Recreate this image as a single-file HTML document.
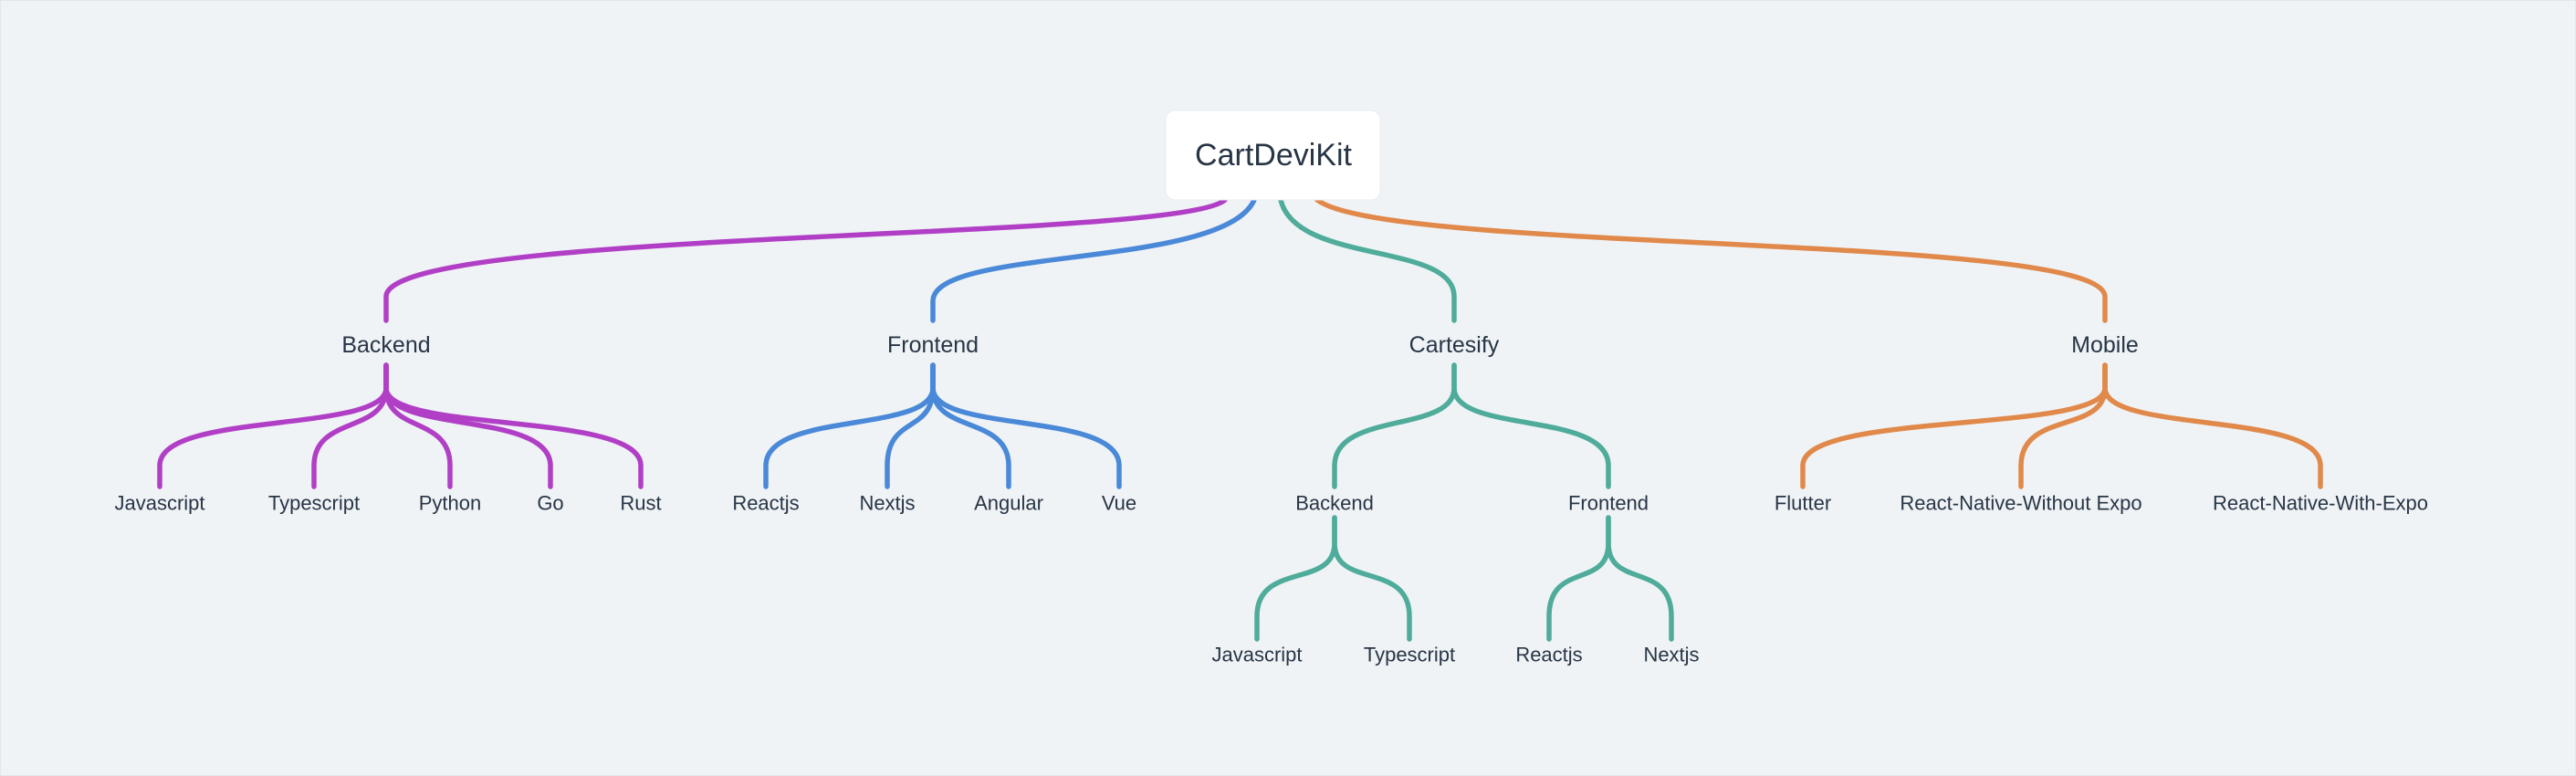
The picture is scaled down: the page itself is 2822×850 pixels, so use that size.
<!DOCTYPE html>
<html><head><meta charset="utf-8"><style>
html,body{margin:0;padding:0;background:#eff3f6;}
svg{display:block}
text{font-family:"Liberation Sans",sans-serif;fill:#283545;text-anchor:middle;dominant-baseline:central}
</style></head><body>
<svg width="2822" height="850" viewBox="0 0 2822 850" xmlns="http://www.w3.org/2000/svg">
<rect x="0.5" y="0.5" width="2821" height="849" fill="#eff3f6" stroke="#e2e7ec"/>
<g fill="none" stroke-width="5.5" stroke-linecap="round">
<path d="M1342,219 C1290,265 423,250 423,325 L423,351" stroke="#b13fc6"/>
<path d="M1374,219 C1340,295 1022,270 1022,330 L1022,351" stroke="#4a88d8"/>
<path d="M1403,219 C1420,290 1593,265 1593,325 L1593,351" stroke="#4fab9a"/>
<path d="M1443,219 C1520,278 2306,255 2306,325 L2306,351" stroke="#e0894a"/>
<g stroke="#b13fc6">
<path d="M423,400 V425 C423,475 175,450 175,510 V533"/>
<path d="M423,400 V425 C423,475 344,455 344,510 V533"/>
<path d="M423,400 V425 C423,475 493,455 493,510 V533"/>
<path d="M423,400 V425 C423,475 603,450 603,510 V533"/>
<path d="M423,400 V425 C423,475 702,450 702,510 V533"/>
</g>
<g stroke="#4a88d8">
<path d="M1022,400 V425 C1022,475 839,450 839,510 V533"/>
<path d="M1022,400 V425 C1022,475 972,455 972,510 V533"/>
<path d="M1022,400 V425 C1022,475 1105,455 1105,510 V533"/>
<path d="M1022,400 V425 C1022,475 1226,450 1226,510 V533"/>
</g>
<g stroke="#4fab9a">
<path d="M1593,400 V425 C1593,475 1462,450 1462,510 V533"/>
<path d="M1593,400 V425 C1593,475 1762,450 1762,510 V533"/>
<path d="M1462,567 V595 C1462,645 1377,615 1377,675 V700"/>
<path d="M1462,567 V595 C1462,645 1544,615 1544,675 V700"/>
<path d="M1762,567 V595 C1762,645 1697,615 1697,675 V700"/>
<path d="M1762,567 V595 C1762,645 1831,615 1831,675 V700"/>
</g>
<g stroke="#e0894a">
<path d="M2306,400 V425 C2306,475 1975,450 1975,510 V533"/>
<path d="M2306,400 V425 C2306,475 2214,450 2214,510 V533"/>
<path d="M2306,400 V425 C2306,475 2542,450 2542,510 V533"/>
</g>
</g>
<rect x="1277" y="121" width="235" height="98" rx="10" fill="#fff" stroke="#e8ecf0"/>
<text x="1395" y="170" font-size="34" font-weight="500">CartDeviKit</text>
<g font-size="25">
<text x="423" y="378">Backend</text>
<text x="1022" y="378">Frontend</text>
<text x="1593" y="378">Cartesify</text>
<text x="2306" y="378">Mobile</text>
</g>
<g font-size="22">
<text x="175" y="551">Javascript</text>
<text x="344" y="551">Typescript</text>
<text x="493" y="551">Python</text>
<text x="603" y="551">Go</text>
<text x="702" y="551">Rust</text>
<text x="839" y="551">Reactjs</text>
<text x="972" y="551">Nextjs</text>
<text x="1105" y="551">Angular</text>
<text x="1226" y="551">Vue</text>
<text x="1462" y="551">Backend</text>
<text x="1762" y="551">Frontend</text>
<text x="1975" y="551">Flutter</text>
<text x="2214" y="551">React-Native-Without Expo</text>
<text x="2542" y="551">React-Native-With-Expo</text>
<text x="1377" y="717">Javascript</text>
<text x="1544" y="717">Typescript</text>
<text x="1697" y="717">Reactjs</text>
<text x="1831" y="717">Nextjs</text>
</g>
</svg>
</body></html>
